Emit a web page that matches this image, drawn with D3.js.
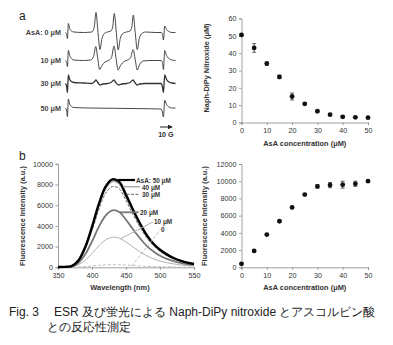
<!DOCTYPE html>
<html>
<head>
<meta charset="utf-8">
<script src="https://cdn.jsdelivr.net/npm/d3@7"></script>
<style>
  body { margin: 0; background: #fff; }
  svg { display: block; }
  text { font-family: "Liberation Sans", Arial, sans-serif; }
</style>
</head>
<body>
<div id="plot"></div>
<script>
// ESR spectra: key points [field (G), signal] for each AsA concentration
var esrLabels = ["AsA: 0 \u03bcM", "10 \u03bcM", "30 \u03bcM", "50 \u03bcM"];
var esr0 = [[0,0],[1.0,-2],[1.6,-6],[2.4,9],[3.5,4],[5,1.5],[7,0.5],[15,0],[22,0.5],[24,5],[25.5,20],[27.2,0],[28.8,-17],[30.5,-6],[32.5,-1],[35,0.5],[38,1.5],[39.5,6],[40.8,19],[42.5,0],[44.1,-17.5],[45.8,-6],[48,-1],[51,0.5],[54,1.5],[55.5,6],[56.7,17.5],[58.3,0],[60,-17],[61.7,-6],[64,-1],[67,0.5],[75,0],[80,0],[81.2,-2],[81.9,-7.5],[83,6.5],[84.5,3],[86.5,1],[89,0],[92,0]];
var esr10 = [[0,0],[1.0,-2],[1.6,-6],[2.4,10],[3.5,5],[5,2],[7,0.5],[15,0],[21,0.5],[23.5,4],[25.3,14],[27,2],[28.5,-9],[30.5,-5],[33,-1.5],[36,0],[38.5,3],[40.6,14.5],[42.3,2],[44,-9.5],[46,-5],[49,-1],[52,0.5],[54.5,3],[56.5,11],[58.3,1],[60,-9.5],[62,-4],[65,-0.5],[70,0],[80,0],[81.2,-3],[81.9,-9],[83,10],[84.5,5],[86.5,2],[89,0.5],[92,0]];
var esr30 = [[0,0],[1.0,-3],[1.6,-9],[2.4,8.5],[3.5,4],[5,2],[7,1],[15,0.5],[22,0],[24,1.5],[25.5,3.5],[27,1],[29,-1.5],[31,-0.5],[35,0],[38,1],[40.5,3.5],[42,1],[44.5,-1.5],[47,-0.5],[51,0],[54,1],[56.5,3.5],[58,1],[60,-1.5],[62,-0.5],[66,0],[80,0],[81,-3],[81.9,-9],[83,8.5],[84.5,4],[86.5,1.5],[89,0.5],[92,0]];
var esr50 = [[0,0],[1.0,-3],[1.6,-8.5],[2.4,9],[3.5,4],[5,1.5],[7,0.5],[20,0],[40,-0.3],[60,-0.6],[80,-1],[81,-4],[81.9,-9],[83,7.6],[84.5,3.5],[86.5,1],[89,0],[92,0]];
var esrTraces = [esr0, esr10, esr30, esr50];

// Nitroxide remaining vs AsA concentration
var asaConc = [0, 5, 10, 15, 20, 25, 30, 35, 40, 45, 50];
var nitroxide = [50.5, 43, 34, 26.3, 15, 10.8, 6.5, 4.5, 3.3, 3.0, 2.8];
var nitroxideErr = [0.6, 2.5, 1.0, 1.0, 2.0, 0.6, 0.5, 0.5, 0.6, 0.4, 0.4];

// Fluorescence spectra (350-550 nm)
var wavelengths = [350, 360, 370, 380, 390, 400, 410, 420, 430, 440, 450, 460, 470, 480, 490, 500, 510, 520, 530, 540, 550];
var fl50 = [30, 40, 120, 650, 1950, 3900, 6100, 7800, 8500, 8250, 7000, 5600, 4300, 3150, 2300, 1700, 1250, 900, 650, 450, 320];
var fl40 = [30, 40, 110, 620, 1880, 3780, 5900, 7600, 8300, 8050, 6800, 5450, 4150, 3050, 2200, 1620, 1180, 850, 610, 420, 300];
var fl30 = [30, 40, 100, 580, 1760, 3550, 5550, 7150, 7800, 7600, 6450, 5150, 3950, 2900, 2100, 1550, 1130, 820, 590, 410, 290];
var fl20 = [20, 30, 80, 420, 1250, 2500, 3900, 5000, 5500, 5350, 4600, 3700, 2850, 2100, 1550, 1120, 820, 600, 430, 310, 230];
var fl10 = [10, 20, 50, 230, 680, 1330, 2080, 2650, 2900, 2820, 2450, 1980, 1520, 1130, 830, 610, 450, 330, 240, 170, 130];
var fl0 = [0, 5, 10, 30, 70, 130, 190, 235, 250, 245, 215, 175, 135, 100, 75, 55, 40, 30, 20, 15, 10];
var flLabels = ["AsA: 50 \u03bcM", "40 \u03bcM", "30 \u03bcM", "20 \u03bcM", "10 \u03bcM", "0"];

// Fluorescence intensity vs AsA concentration
var fluor = [400, 1900, 3800, 5350, 6950, 8450, 9400, 9550, 9600, 9700, 10000];
var fluorErr = [80, 80, 100, 100, 100, 120, 200, 300, 400, 300, 150];

var svg = d3.select("#plot").append("svg")
  .attr("width", 393)
  .attr("height", 345);

var tickFont = 7.2;

// ---------- panel a: ESR spectra ----------
svg.append("text").attr("x", 19).attr("y", 20)
  .attr("font-size", 12).attr("fill", "#222").text("a");

var xG = d3.scaleLinear().domain([0, 92]).range([65.5, 175.5]);
var yA = d3.scaleLinear().domain([-20, 20]).range([20, -20]);
var esrBase = [32.5, 60.5, 83.5, 108];
var esrLine = d3.line()
  .x(function(d) { return xG(d[0]); })
  .y(function(d) { return yA(d[1]); })
  .curve(d3.curveMonotoneX);

esrTraces.forEach(function(tr, i) {
  var g = svg.append("g").attr("transform", "translate(0," + esrBase[i] + ")");
  g.append("path")
    .datum(tr)
    .attr("d", esrLine)
    .attr("fill", "none")
    .attr("stroke", "#333")
    .attr("stroke-width", i == 2 ? 1.3 : 0.9);
  g.append("text")
    .attr("x", 61).attr("y", 2.5)
    .attr("text-anchor", "end")
    .attr("font-size", 7.2)
    .attr("font-weight", "bold")
    .attr("fill", "#444")
    .text(esrLabels[i]);
});

// 10 G scale arrow
svg.append("defs").append("marker")
  .attr("id", "arr").attr("viewBox", "0 0 6 6")
  .attr("refX", 5).attr("refY", 3)
  .attr("markerWidth", 5).attr("markerHeight", 5)
  .attr("orient", "auto")
  .append("path").attr("d", "M0,0L6,3L0,6z").attr("fill", "#222");
svg.append("line")
  .attr("x1", xG(79)).attr("x2", xG(89))
  .attr("y1", 127).attr("y2", 127)
  .attr("stroke", "#222").attr("stroke-width", 1)
  .attr("marker-end", "url(#arr)");
svg.append("text").attr("x", xG(84)).attr("y", 137)
  .attr("text-anchor", "middle").attr("font-size", 7.2)
  .attr("font-weight", "bold").attr("fill", "#333").text("10 G");

// ---------- shared scatter chart drawing ----------
function scatterChart(opt) {
  var x = d3.scaleLinear().domain([0, 50]).range([opt.x0, opt.x1]);
  var y = d3.scaleLinear().domain([0, opt.ymax]).range([opt.y0, opt.y1]);
  var g = svg.append("g");

  var ax = g.append("g")
    .attr("transform", "translate(0," + opt.y0 + ")")
    .call(d3.axisBottom(x).tickValues([0, 10, 20, 30, 40, 50]).tickSize(2.5).tickPadding(3));
  var ay = g.append("g")
    .attr("transform", "translate(" + opt.x0 + ",0)")
    .call(d3.axisLeft(y).tickValues(opt.ticks).tickSize(2.5).tickPadding(2.5).tickFormat(d3.format("d")));
  [ax, ay].forEach(function(a) {
    a.select(".domain").attr("stroke", "#888").attr("stroke-width", 0.8);
    a.selectAll(".tick line").attr("stroke", "#888").attr("stroke-width", 0.8);
    a.selectAll(".tick text").attr("font-size", tickFont).attr("fill", "#333")
      .attr("font-family", "Liberation Sans, Arial, sans-serif");
  });

  // error bars
  g.selectAll(".err").data(asaConc).enter().append("path")
    .attr("d", function(d, i) {
      var cx = x(d), hi = y(opt.values[i] + opt.errs[i]), lo = y(opt.values[i] - opt.errs[i]);
      return "M" + (cx - 2) + "," + hi + "H" + (cx + 2) + "M" + cx + "," + hi + "V" + lo +
        "M" + (cx - 2) + "," + lo + "H" + (cx + 2);
    })
    .attr("stroke", "#222").attr("stroke-width", 0.7).attr("fill", "none");

  g.selectAll(".pt").data(asaConc).enter().append("circle")
    .attr("cx", function(d) { return x(d); })
    .attr("cy", function(d, i) { return y(opt.values[i]); })
    .attr("r", 2.4)
    .attr("fill", "#111");

  g.append("text")
    .attr("x", (opt.x0 + opt.x1) / 2).attr("y", opt.xLabelY)
    .attr("text-anchor", "middle").attr("font-size", 7.4)
    .attr("font-weight", "bold").attr("fill", "#333")
    .text("AsA concentration (\u03bcM)");
  g.append("text")
    .attr("transform", "translate(" + opt.yLabelX + "," + opt.yLabelY + ") rotate(-90)")
    .attr("text-anchor", "middle").attr("font-size", 7.4)
    .attr("font-weight", "bold").attr("fill", "#333")
    .text(opt.yLabel);
}

scatterChart({
  x0: 241.5, x1: 368, y0: 122.5, y1: 18.5, ymax: 60,
  ticks: [0, 10, 20, 30, 40, 50, 60],
  values: nitroxide, errs: nitroxideErr,
  xLabelY: 146, yLabelX: 209, yLabelY: 68,
  yLabel: "Naph-DiPy Nitroxide (\u03bcM)"
});

scatterChart({
  x0: 241.5, x1: 368, y0: 267.3, y1: 164, ymax: 12000,
  ticks: [0, 2000, 4000, 6000, 8000, 10000, 12000],
  values: fluor, errs: fluorErr,
  xLabelY: 290, yLabelX: 207, yLabelY: 216,
  yLabel: "Fluorescence Intensity (a.u.)"
});

// ---------- panel b: fluorescence spectra ----------
svg.append("text").attr("x", 19).attr("y", 160)
  .attr("font-size", 12).attr("fill", "#222").text("b");

var xW = d3.scaleLinear().domain([350, 550]).range([58, 194]);
var yF = d3.scaleLinear().domain([0, 10000]).range([267.3, 163.8]);

var axW = svg.append("g")
  .attr("transform", "translate(0,267.3)")
  .call(d3.axisBottom(xW).tickValues([350, 400, 450, 500, 550]).tickSize(2.5).tickPadding(3));
var axF = svg.append("g")
  .attr("transform", "translate(58,0)")
  .call(d3.axisLeft(yF).tickValues([0, 2000, 4000, 6000, 8000, 10000]).tickSize(2.5).tickPadding(2.5).tickFormat(d3.format("d")));
[axW, axF].forEach(function(a) {
  a.select(".domain").attr("stroke", "#888").attr("stroke-width", 0.8);
  a.selectAll(".tick line").attr("stroke", "#888").attr("stroke-width", 0.8);
  a.selectAll(".tick text").attr("font-size", tickFont).attr("fill", "#333")
    .attr("font-family", "Liberation Sans, Arial, sans-serif");
});

svg.append("text").attr("x", 120).attr("y", 290)
  .attr("text-anchor", "middle").attr("font-size", 7.4)
  .attr("font-weight", "bold").attr("fill", "#333").text("Wavelength (nm)");
svg.append("text")
  .attr("transform", "translate(25,216) rotate(-90)")
  .attr("text-anchor", "middle").attr("font-size", 7.4)
  .attr("font-weight", "bold").attr("fill", "#333")
  .text("Fluorescence Intensity (a.u.)");

var flSeries = [fl0, fl10, fl20, fl30, fl40, fl50];
var flStyles = [
  { color: "#b8b8b8", width: 0.9, dash: "3,2" },
  { color: "#b0b0b0", width: 1.0, dash: null },
  { color: "#777", width: 1.8, dash: null },
  { color: "#555", width: 0.9, dash: "3,1.5" },
  { color: "#aaa", width: 1.5, dash: null },
  { color: "#000", width: 2.4, dash: null }
];
var flLine = d3.line()
  .x(function(d, i) { return xW(wavelengths[i]); })
  .y(function(d) { return yF(d); })
  .curve(d3.curveCatmullRom.alpha(0.5));

flSeries.forEach(function(s, i) {
  svg.append("path")
    .datum(s)
    .attr("d", flLine)
    .attr("fill", "none")
    .attr("stroke", flStyles[i].color)
    .attr("stroke-width", flStyles[i].width)
    .attr("stroke-dasharray", flStyles[i].dash);
});

// curve labels with leader lines (order: 50, 40, 30, 20, 10, 0)
var leaders = [
  [117.7, 180, 135, 180, 136, 182.8],
  [123, 186.7, 140, 186.7, 142, 189.6],
  [126.5, 194.3, 140, 194.3, 142, 197.2],
  [120, 212.3, 138.5, 212.3, 140, 215.2],
  [120, 239, 153, 222, 154, 224.3],
  [131.7, 266, 160.5, 229.5, 161, 232]
];
var leaderStyle = [5, 4, 3, 2, 1, 0];
leaders.forEach(function(l, i) {
  var st = flStyles[leaderStyle[i]];
  svg.append("line")
    .attr("x1", l[0]).attr("y1", l[1]).attr("x2", l[2]).attr("y2", l[3])
    .attr("stroke", st.color).attr("stroke-width", Math.min(st.width, 2.2))
    .attr("stroke-dasharray", st.dash);
  svg.append("text")
    .attr("x", l[4]).attr("y", l[5])
    .attr("font-size", 6.4).attr("font-weight", "bold").attr("fill", "#333")
    .text(flLabels[i]);
});

// ---------- caption ----------
var cap = svg.append("g")
  .attr("font-family", "'Liberation Sans', 'Noto Sans CJK JP', sans-serif")
  .attr("font-size", 12).attr("fill", "#222");
cap.append("text").attr("x", 9).attr("y", 316).text("Fig. 3");
cap.append("text").attr("x", 54).attr("y", 316)
  .text("ESR \u53ca\u3073\u86cd\u5149\u306b\u3088\u308b Naph-DiPy nitroxide \u3068\u30a2\u30b9\u30b3\u30eb\u30d3\u30f3\u9178");
cap.append("text").attr("x", 46.5).attr("y", 331).text("\u3068\u306e\u53cd\u5fdc\u6027\u6e2c\u5b9a");
</script>
</body>
</html>
